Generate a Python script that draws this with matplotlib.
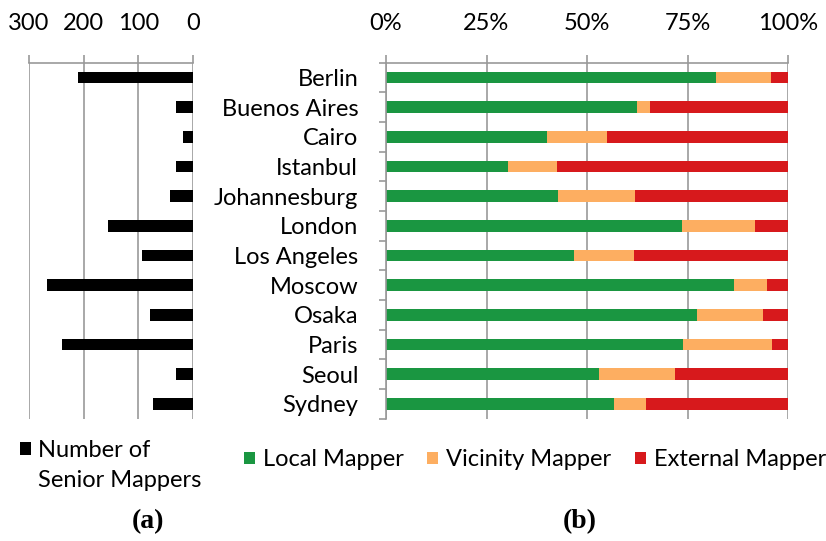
import matplotlib
matplotlib.use("Agg")
import matplotlib.pyplot as plt
from matplotlib.patches import Patch
import numpy as np

# cities top to bottom
cities = ["Berlin", "Buenos Aires", "Cairo", "Istanbul", "Johannesburg", "London",
          "Los Angeles", "Moscow", "Osaka", "Paris", "Seoul", "Sydney"]
senior_mappers = [211, 31, 19, 32, 42, 156, 93, 266, 79, 239, 31, 73]
local_pct = [82.0, 62.5, 40.0, 30.3, 42.8, 73.6, 46.8, 86.5, 77.4, 74.0, 53.1, 56.7]
vicinity_pct = [13.8, 3.2, 15.0, 12.2, 19.1, 18.1, 14.9, 8.3, 16.4, 21.9, 18.8, 8.1]
external_pct = [4.2, 34.3, 45.0, 57.5, 38.1, 8.3, 38.3, 5.2, 6.2, 4.1, 28.1, 35.2]

green, orange, red = "#1a9641", "#fdae61", "#d7191c"
grid_col = "#999999"

plt.rcParams["font.family"] = ["Lato", "DejaVu Sans"]
plt.rcParams["font.size"] = 17

fig = plt.figure(figsize=(8.26, 5.41), dpi=100)
W, H = 826, 541
top, bottom = 62.7, 418.7
axl = fig.add_axes([28.7 / W, 1 - bottom / H, (193.3 - 28.7) / W, (bottom - top) / H])
axr = fig.add_axes([386 / W, 1 - bottom / H, 402 / W, (bottom - top) / H])

y = np.arange(len(cities))

# left panel: number of senior mappers
bars = axl.barh(y, senior_mappers, height=0.4, color="black")
axl.set_xlim(300, 0)
axl.set_ylim(len(cities) - 0.5, -0.5)
axl.set_xticks([300, 200, 100, 0])
axl.xaxis.tick_top()
axl.tick_params(axis="x", length=6, color=grid_col, width=1.2, pad=15)
axl.set_yticks([])
axl.grid(axis="x", color=grid_col, lw=1.2)
axl.set_axisbelow(True)
for s in ["left", "right", "bottom"]:
    axl.spines[s].set_visible(False)
axl.spines["top"].set_color(grid_col)
axl.spines["top"].set_linewidth(1.2)

# right panel: share of mapper types
left = np.zeros(len(cities))
for vals, col, lab in [(local_pct, green, "Local Mapper"),
                       (vicinity_pct, orange, "Vicinity Mapper"),
                       (external_pct, red, "External Mapper")]:
    axr.barh(y, vals, left=left, height=0.4, color=col, label=lab)
    left += np.array(vals)
axr.set_xlim(0, 100)
axr.set_ylim(len(cities) - 0.5, -0.5)
axr.set_xticks([0, 25, 50, 75, 100])
axr.set_xticklabels(["0%", "25%", "50%", "75%", "100%"])
axr.xaxis.tick_top()
axr.tick_params(axis="x", length=6, color=grid_col, width=1.2, pad=15)
axr.set_yticks(y)
axr.set_yticklabels(cities)
axr.set_yticks(np.arange(len(cities) + 1) - 0.5, minor=True)
axr.tick_params(axis="y", which="major", length=0, pad=20)
axr.tick_params(axis="y", which="minor", length=5, color=grid_col, width=1.2)
axr.grid(axis="x", color=grid_col, lw=1.2)
axr.set_axisbelow(True)
for s in ["right", "bottom"]:
    axr.spines[s].set_visible(False)
for s in ["left", "top"]:
    axr.spines[s].set_color(grid_col)
    axr.spines[s].set_linewidth(1.2)

fig.legend([bars, Patch(color="none")], ["Number of", "Senior Mappers"], loc="upper left",
           bbox_to_anchor=(20 / W, 1 - 440 / H), frameon=False, borderpad=0, borderaxespad=0,
           handlelength=0.45, handleheight=0.45, handletextpad=0.3, labelspacing=0.4, fontsize=17)
fig.legend(*axr.get_legend_handles_labels(), loc="center", bbox_to_anchor=(535 / W, 1 - 460 / H),
           ncol=3, frameon=False, borderpad=0, borderaxespad=0, handlelength=0.45,
           handleheight=0.45, handletextpad=0.35, columnspacing=1.0, fontsize=17)

fig.text(148 / W, 1 - 522 / H, "(a)", family="Liberation Serif", weight="bold", fontsize=20,
         ha="center", va="center")
fig.text(580 / W, 1 - 522 / H, "(b)", family="Liberation Serif", weight="bold", fontsize=20,
         ha="center", va="center")

fig.savefig("out.png", dpi=100)
